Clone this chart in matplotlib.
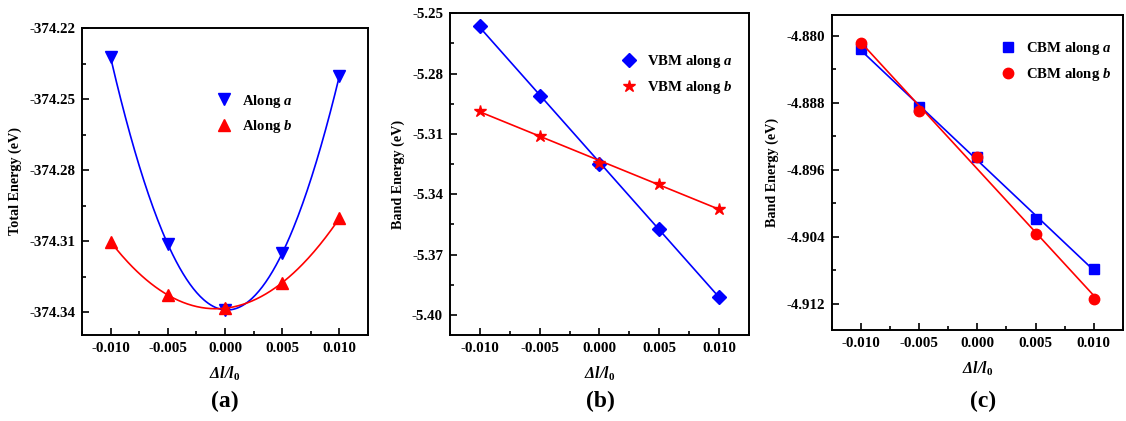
import numpy as np
import matplotlib
matplotlib.use('Agg')
import matplotlib.pyplot as plt
from matplotlib.ticker import MultipleLocator, FormatStrFormatter

plt.rcParams['font.family'] = ['Liberation Serif', 'DejaVu Serif']
plt.rcParams['font.weight'] = 'bold'
plt.rcParams['axes.unicode_minus'] = False
plt.rcParams['mathtext.fontset'] = 'custom'
plt.rcParams['mathtext.it'] = 'Liberation Serif:italic:bold'
plt.rcParams['mathtext.rm'] = 'Liberation Serif:bold'

strain = [-0.010, -0.005, 0.000, 0.005, 0.010]

# (a) total energy
total_a = [-374.2324, -374.3113, -374.3391, -374.3152, -374.2403]
total_b = [-374.3103, -374.3328, -374.3384, -374.3276, -374.3004]

# (b) VBM
vbm_a = [-5.2563, -5.2911, -5.3250, -5.3571, -5.3910]
vbm_b = [-5.2986, -5.3109, -5.3246, -5.3349, -5.3472]

# (c) CBM
cbm_a = [-4.8816, -4.8885, -4.8945, -4.9018, -4.9078]
cbm_b = [-4.8809, -4.8890, -4.8945, -4.9036, -4.9114]

BLUE = '#0000ff'
RED = '#ff0000'

fig = plt.figure(figsize=(11.26, 4.21), dpi=100)
ax_a = fig.add_axes([0.0728, 0.2043, 0.254, 0.7292])
ax_b = fig.add_axes([0.3996, 0.2043, 0.2655, 0.7641])
ax_c = fig.add_axes([0.7386, 0.2162, 0.2587, 0.7482])

xs = np.array(strain)
xfine = np.linspace(xs.min(), xs.max(), 200)


def style(ax, ylim, ymajor, fmt, ylabel):
    ax.set_xlim(-0.0125, 0.0125)
    ax.set_ylim(*ylim)
    ax.xaxis.set_major_locator(MultipleLocator(0.005))
    ax.xaxis.set_minor_locator(MultipleLocator(0.0025))
    ax.xaxis.set_major_formatter(FormatStrFormatter('%.3f'))
    ax.yaxis.set_major_locator(MultipleLocator(ymajor))
    ax.yaxis.set_minor_locator(MultipleLocator(ymajor / 2))
    ax.yaxis.set_major_formatter(FormatStrFormatter(fmt))
    ax.tick_params(which='both', direction='in', top=False, right=False,
                   labelsize=10.8, width=1.2)
    ax.tick_params(which='major', length=5, pad=5)
    ax.tick_params(which='minor', length=3)
    for lab in ax.get_xticklabels() + ax.get_yticklabels():
        lab.set_fontweight('bold')
    for sp in ax.spines.values():
        sp.set_linewidth(1.4)
    ax.set_xlabel('Δl/l$_{\\mathit{0}}$', fontsize=11.5, fontstyle='italic',
                  fontweight='bold', labelpad=7)
    ax.set_ylabel(ylabel, fontsize=10.2, fontweight='bold', labelpad=5)


def legend(ax, anchor):
    ax.legend(loc='center left', bbox_to_anchor=anchor, frameon=False,
              prop={'weight': 'bold', 'size': 10.6}, handletextpad=0.6,
              labelspacing=0.6, handlelength=1.2, numpoints=1)


# (a)
for ys, c, m, lab in [(total_a, BLUE, 'v', r'Along $a$'), (total_b, RED, '^', r'Along $b$')]:
    coef = np.polyfit(xs, ys, 4)
    ax_a.plot(xfine, np.polyval(coef, xfine), color=c, lw=1.2)
    ax_a.plot(xs, ys, m, color=c, ms=8, label=lab)
style(ax_a, (-374.3497, -374.22), 0.03, '%.2f', 'Total Energy (eV)')
legend(ax_a, (0.42, 0.72))

# (b)
for ys, c, m, ms, lab in [(vbm_a, BLUE, 'D', 7, r'VBM along $a$'), (vbm_b, RED, '*', 9, r'VBM along $b$')]:
    coef = np.polyfit(xs, ys, 1)
    ax_b.plot(xs, np.polyval(coef, xs), color=c, lw=1.2)
    ax_b.plot(xs, ys, m, color=c, ms=ms, label=lab)
style(ax_b, (-5.41, -5.25), 0.03, '%.2f', 'Band Energy (eV)')
legend(ax_b, (0.525, 0.81))

# (c)
for ys, c, m, lab in [(cbm_a, BLUE, 's', r'CBM along $a$'), (cbm_b, RED, 'o', r'CBM along $b$')]:
    coef = np.polyfit(xs, ys, 1)
    ax_c.plot(xs, np.polyval(coef, xs), color=c, lw=1.2)
    ax_c.plot(xs, ys, m, color=c, ms=7.5, label=lab)
style(ax_c, (-4.9151, -4.8775), 0.008, '%.3f', 'Band Energy (eV)')
legend(ax_c, (0.53, 0.852))

for x, t in [(0.2, '(a)'), (0.533, '(b)'), (0.873, '(c)')]:
    fig.text(x, 0.047, t, ha='center', va='center', fontsize=17, fontweight='bold')

fig.savefig('out.png', dpi=100)
